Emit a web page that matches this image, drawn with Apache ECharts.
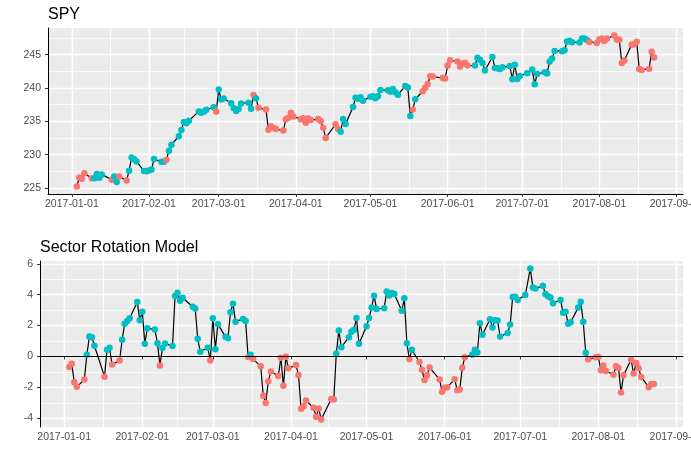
<!DOCTYPE html>
<html>
<head>
<meta charset="utf-8">
<title>SPY / Sector Rotation Model</title>
<script src="https://cdn.jsdelivr.net/npm/echarts@6/dist/echarts.min.js"></script>
<style>
  html, body { margin: 0; padding: 0; background: #fff; }
  #chart { width: 691px; height: 466px; }
</style>
</head>
<body>
<div id="chart"></div>
<script>
// trading days, 2017-01-03 .. 2017-08-23
const tradingDays = [
  '2017-01-03','2017-01-04','2017-01-05','2017-01-06','2017-01-09','2017-01-10','2017-01-11','2017-01-12','2017-01-13',
  '2017-01-17','2017-01-18','2017-01-19','2017-01-20','2017-01-23','2017-01-24','2017-01-25','2017-01-26','2017-01-27',
  '2017-01-30','2017-01-31',
  '2017-02-01','2017-02-02','2017-02-03','2017-02-06','2017-02-07','2017-02-08','2017-02-09','2017-02-10','2017-02-13',
  '2017-02-14','2017-02-15','2017-02-16','2017-02-17','2017-02-21','2017-02-22','2017-02-23','2017-02-24','2017-02-27',
  '2017-02-28',
  '2017-03-01','2017-03-02','2017-03-03','2017-03-06','2017-03-07','2017-03-08','2017-03-09','2017-03-10','2017-03-13',
  '2017-03-14','2017-03-15','2017-03-16','2017-03-17','2017-03-20','2017-03-21','2017-03-22','2017-03-23','2017-03-24',
  '2017-03-27','2017-03-28','2017-03-29','2017-03-30','2017-03-31',
  '2017-04-03','2017-04-04','2017-04-05','2017-04-06','2017-04-07','2017-04-10','2017-04-11','2017-04-12','2017-04-13',
  '2017-04-17','2017-04-18','2017-04-19','2017-04-20','2017-04-21','2017-04-24','2017-04-25','2017-04-26','2017-04-27',
  '2017-04-28',
  '2017-05-01','2017-05-02','2017-05-03','2017-05-04','2017-05-05','2017-05-08','2017-05-09','2017-05-10','2017-05-11',
  '2017-05-12','2017-05-15','2017-05-16','2017-05-17','2017-05-18','2017-05-19','2017-05-22','2017-05-23','2017-05-24',
  '2017-05-25','2017-05-26','2017-05-30','2017-05-31',
  '2017-06-01','2017-06-02','2017-06-05','2017-06-06','2017-06-07','2017-06-08','2017-06-09','2017-06-12','2017-06-13',
  '2017-06-14','2017-06-15','2017-06-16','2017-06-19','2017-06-20','2017-06-21','2017-06-22','2017-06-23','2017-06-26',
  '2017-06-27','2017-06-28','2017-06-29','2017-06-30',
  '2017-07-03','2017-07-05','2017-07-06','2017-07-07','2017-07-10','2017-07-11','2017-07-12','2017-07-13','2017-07-14',
  '2017-07-17','2017-07-18','2017-07-19','2017-07-20','2017-07-21','2017-07-24','2017-07-25','2017-07-26','2017-07-27',
  '2017-07-28','2017-07-31',
  '2017-08-01','2017-08-02','2017-08-03','2017-08-04','2017-08-07','2017-08-08','2017-08-09','2017-08-10','2017-08-11',
  '2017-08-14','2017-08-15','2017-08-16','2017-08-17','2017-08-18','2017-08-21','2017-08-22','2017-08-23'
];

const spyClose = [
  225.24,226.58,226.40,227.21,226.46,226.46,227.10,226.53,227.05,226.25,226.75,225.91,226.74,226.15,227.60,229.57,229.33,228.97,227.55,227.53,
  227.62,227.77,229.34,228.93,228.94,229.24,230.60,231.51,232.77,233.70,234.92,234.72,235.09,236.49,236.28,236.44,236.74,237.11,236.47,
  239.78,238.27,238.42,237.71,237.00,236.56,236.86,237.69,237.81,236.90,238.95,238.48,237.03,236.77,233.73,234.28,234.03,233.86,233.62,235.32,235.54,236.29,235.74,
  235.33,235.48,234.78,235.44,235.20,235.34,235.06,234.03,232.51,234.57,233.87,233.44,235.34,234.59,237.17,238.55,238.40,238.60,238.08,
  238.68,238.77,238.48,238.76,239.70,239.66,239.44,239.87,239.38,238.98,240.30,240.08,235.82,236.77,238.31,239.52,240.05,240.61,241.76,241.71,241.50,241.44,
  243.36,244.17,243.99,243.21,243.66,243.78,243.41,243.36,244.55,244.24,243.77,242.64,244.66,243.01,242.95,242.84,243.13,243.29,241.33,243.49,241.35,241.80,
  242.21,242.77,240.55,242.11,242.37,242.19,243.99,244.42,245.56,245.53,245.66,246.99,247.10,246.88,246.82,247.42,247.43,247.20,246.91,246.77,
  247.32,247.44,247.04,247.41,247.87,247.26,247.25,243.76,244.12,246.54,246.51,246.94,242.87,242.71,242.90,245.44,244.56
];

const modelScore = [
  -0.68,-0.47,-1.67,-1.97,-1.50,0.11,1.29,1.25,0.69,-1.31,0.43,0.56,-0.53,-0.26,1.08,2.11,2.30,2.47,3.52,2.34,
  2.90,0.82,1.83,1.74,0.86,-0.58,0.54,0.84,0.67,3.91,4.12,3.61,3.80,3.22,3.11,1.14,0.30,0.56,-0.26,
  2.47,0.47,2.09,1.27,1.18,2.86,3.41,2.25,2.43,2.30,-0.04,0.11,-0.17,-0.64,-2.55,-3.02,-1.61,-0.98,-1.26,-0.08,-1.89,-0.02,-0.77,
  -0.56,-1.20,-3.39,-3.22,-2.85,-3.33,-3.90,-3.37,-4.08,-2.75,-2.79,0.19,1.68,0.60,1.25,1.59,1.72,2.49,0.82,
  1.96,2.49,3.16,3.93,3.07,3.12,4.20,3.94,4.10,4.04,2.96,3.76,0.86,-0.17,0.43,-0.36,-0.86,-1.52,-1.22,-0.71,-1.50,-2.29,
  -2.02,-1.99,-1.48,-2.19,-2.14,-0.73,-0.06,0.13,0.43,0.26,2.15,1.40,2.41,1.87,2.34,2.32,1.29,1.51,2.06,3.84,3.86,3.65,
  3.97,5.69,4.47,4.40,4.57,4.04,3.90,3.82,3.44,3.65,2.83,2.90,2.11,2.21,3.16,3.54,2.25,0.24,-0.19,-0.06,
  -0.02,-0.90,-0.58,-0.94,-1.18,-0.62,-0.75,-2.34,-1.22,-0.21,-1.11,-0.43,-0.77,-1.33,-1.99,-1.78,-1.78
];

const monthBreaks = ['2017-01-01','2017-02-01','2017-03-01','2017-04-01','2017-05-01','2017-06-01','2017-07-01','2017-08-01','2017-09-01'];
const spyBreaks = [225, 230, 235, 240, 245];
const spyMinor = [227.5, 232.5, 237.5, 242.5, 247.5];
const modelBreaks = [-4, -2, 0, 2, 4, 6];
const modelMinor = [-3, -1, 1, 3, 5];

const RED = '#F8766D';
const TEAL = '#00BFC4';
const FONT = 'Liberation Sans, Arial, sans-serif';

const ts = s => { const p = s.split('-').map(Number); return new Date(p[0], p[1] - 1, p[2]).getTime(); };
const dayTs = tradingDays.map(ts);
const majorX = monthBreaks.map(ts);
const minorX = majorX.slice(1).map((t, i) => (t + majorX[i]) / 2);

// ranges with ggplot's 5% expansion
const xSpan = dayTs[dayTs.length - 1] - dayTs[0];
const xMin = dayTs[0] - 0.05 * xSpan;
const xMax = dayTs[dayTs.length - 1] + 0.05 * xSpan;
const expand = arr => {
  const lo = Math.min(...arr), hi = Math.max(...arr), d = (hi - lo) * 0.05;
  return [lo - d, hi + d];
};
const spyRange = expand(spyClose);
const modelRange = expand(modelScore);

const spyData = dayTs.map((t, i) => [t, spyClose[i]]);
const modelData = dayTs.map((t, i) => [t, modelScore[i]]);
// points are coloured by the sign of the model score
const signColor = p => (modelScore[p.dataIndex] < 0 ? RED : TEAL);

const labelStyle = { color: '#4D4D4D', fontSize: 10.5, fontFamily: FONT };

function xAxes(gridIndex) {
  return [{
    type: 'time', gridIndex, min: xMin, max: xMax,
    axisLine: { show: true, lineStyle: { color: '#000', width: 1 } },
    axisTick: { show: true, length: 3, customValues: majorX, lineStyle: { color: '#333' } },
    axisLabel: Object.assign({ customValues: majorX, margin: 5, formatter: '{yyyy}-{MM}-{dd}',
      showMinLabel: true, showMaxLabel: true, hideOverlap: false }, labelStyle),
    splitLine: { show: true, lineStyle: { color: '#fff', width: 1.4 } }
  }, {
    type: 'time', gridIndex, min: xMin, max: xMax,
    axisLine: { show: false }, axisLabel: { show: false },
    axisTick: { show: false, customValues: minorX },
    splitLine: { show: true, lineStyle: { color: '#fff', width: 0.7 } }
  }];
}

function yAxes(gridIndex, range, breaks, minor) {
  return [{
    type: 'value', gridIndex, min: range[0], max: range[1],
    axisLine: { show: true, lineStyle: { color: '#000', width: 1 } },
    axisTick: { show: true, length: 3, customValues: breaks, lineStyle: { color: '#333' } },
    axisLabel: Object.assign({ customValues: breaks, margin: 7 }, labelStyle),
    splitLine: { show: true, lineStyle: { color: '#fff', width: 1.4 } }
  }, {
    type: 'value', gridIndex, min: range[0], max: range[1],
    axisLine: { show: false }, axisLabel: { show: false },
    axisTick: { show: false, customValues: minor },
    splitLine: { show: true, lineStyle: { color: '#fff', width: 0.7 } }
  }];
}

const chart = echarts.init(document.getElementById('chart'), null, { renderer: 'canvas' });

const titleStyle = { fontFamily: FONT, fontSize: 16, fontWeight: 'normal', color: '#000' };
const panel = { show: true, backgroundColor: '#EBEBEB', borderWidth: 0, containLabel: false, outerBoundsMode: 'none' };

const option = {
  animation: false,
  backgroundColor: '#fff',
  title: [
    { text: 'SPY', left: 48, top: 7, padding: 0, textStyle: titleStyle },
    { text: 'Sector Rotation Model', left: 40, top: 240, padding: 0, textStyle: titleStyle }
  ],
  grid: [
    Object.assign({ left: 48, top: 28, width: 635, height: 166 }, panel),
    Object.assign({ left: 40, top: 261, width: 643, height: 166 }, panel)
  ],
  xAxis: [...xAxes(0), ...xAxes(1)],
  yAxis: [...yAxes(0, spyRange, spyBreaks, spyMinor), ...yAxes(1, modelRange, modelBreaks, modelMinor)],
  series: [
    {
      name: 'SPY', type: 'line', xAxisIndex: 0, yAxisIndex: 0, data: spyData,
      showSymbol: false, lineStyle: { color: '#000', width: 1.2 }, z: 3
    },
    {
      name: 'SPY points', type: 'scatter', xAxisIndex: 0, yAxisIndex: 0, data: spyData,
      symbolSize: 6.5, itemStyle: { color: signColor, opacity: 1 }, z: 4
    },
    {
      name: 'Model', type: 'line', xAxisIndex: 2, yAxisIndex: 2, data: modelData,
      showSymbol: false, lineStyle: { color: '#000', width: 1.2 }, z: 3,
      markLine: {
        silent: true, symbol: 'none', label: { show: false },
        lineStyle: { color: '#000', width: 1.2, type: 'solid' },
        data: [{ yAxis: 0 }]
      }
    },
    {
      name: 'Model points', type: 'scatter', xAxisIndex: 2, yAxisIndex: 2, data: modelData,
      symbolSize: 6.5, itemStyle: { color: signColor, opacity: 1 }, z: 4
    }
  ]
};

chart.setOption(option);
</script>
</body>
</html>
